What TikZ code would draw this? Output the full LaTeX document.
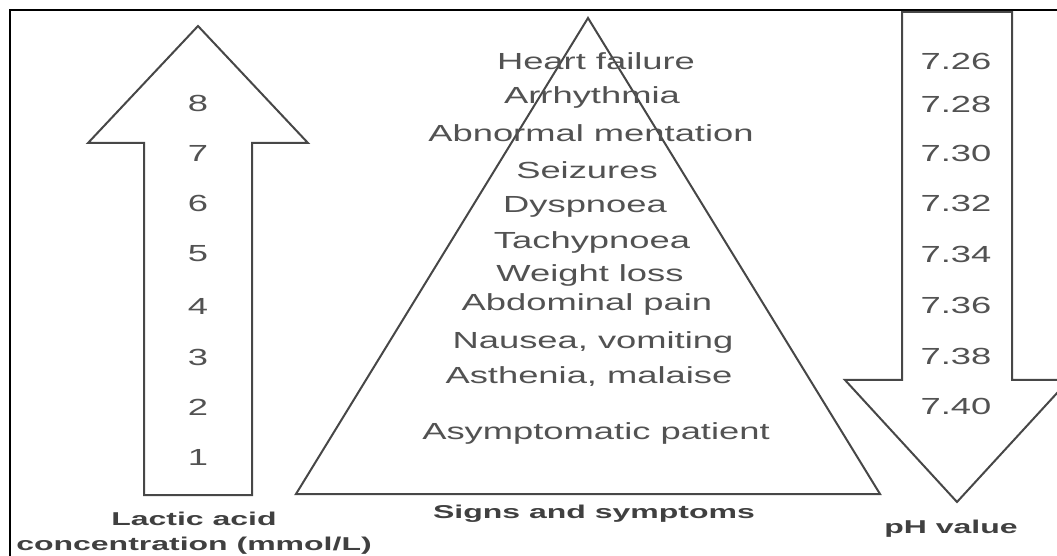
\documentclass[tikz,border=0pt]{standalone}
\usepackage{fontspec}
\setmainfont{Liberation Sans}[FakeStretch=1.56]
\newfontfamily\capfont{Liberation Sans}[FakeStretch=1.72]
\begin{document}
\begin{tikzpicture}[x=0.5pt,y=-0.5pt,
  shapeline/.style={draw=black!72,line width=1pt,line join=miter},
  lbl/.style={text=black!68,font=\fontsize{11.65}{14}\selectfont,inner sep=0pt},
  caption/.style={text=black!75,font=\capfont\bfseries\fontsize{9.3}{12.5}\selectfont,
    inner sep=0pt,align=center}]
  \clip (0,0) rectangle (1057,556);

  % frame (only left and top edges are visible)
  \draw[line width=1.2pt] (10,556) -- (10,10) -- (1057,10);

  % lactic acid arrow, pointing up
  \draw[shapeline] (144,495) -- (144,143) -- (88,143) -- (198,26)
    -- (308,143) -- (252,143) -- (252,495) -- cycle;
  \foreach \n/\y in {8/103,7/153,6/203,5/254,4/306,3/357,2/407,1/457}
    \node[lbl] (lac\n) at (198,\y) {\n};

  % pyramid of symptoms
  \draw[shapeline] (296,494) -- (588,18) -- (880,494) -- cycle;
  \foreach \nm/\x/\y/\txt in {heart/596/61/{Heart failure},
      arrh/592/97/{Arrhythmia},
      ment/591/133/{Abnormal mentation},
      seiz/587/170/{Seizures},
      dysp/585/207/{Dyspnoea},
      tach/592/242/{Tachypnoea},
      wloss/590/275/{Weight loss},
      abdo/587/304/{Abdominal pain},
      naus/593/342/{Nausea, vomiting},
      asth/589/377/{Asthenia, malaise},
      asym/596/433/{Asymptomatic patient}}
    \node[lbl] (\nm) at (\x,\y) {\txt};

  % pH arrow, pointing down
  \draw[shapeline] (902,12) -- (902,380) -- (845,380) -- (957,502)
    -- (1069,380) -- (1012,380) -- (1012,12) -- cycle;
  \foreach \v/\y in {26/61,28/104,30/153,32/203,34/254,36/305,38/356,40/406}
    \node[lbl] (ph\v) at (956,\y) {7.\v};

  % captions
  \node[caption] (lactic) at (194,533) {Lactic acid\\concentration (mmol/L)};
  \node[caption] (signs) at (594,514) {Signs and symptoms};
  \node[caption] (phval) at (951,529) {pH value};
\end{tikzpicture}
\end{document}
